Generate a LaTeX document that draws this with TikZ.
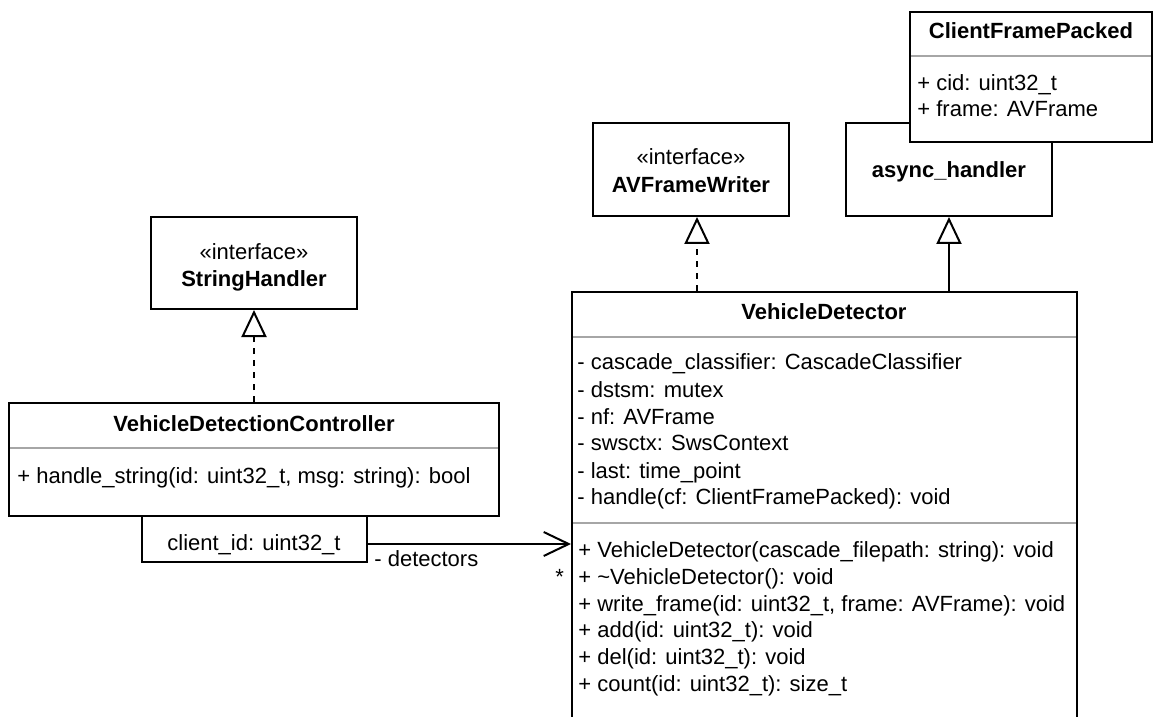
\documentclass[tikz,border=0pt]{standalone}
\usepackage{fontspec}
\setmainfont{Liberation Sans}
\usetikzlibrary{arrows.meta,fit}

\tikzset{
  umlbox/.style={draw, line width=1pt, fill=white, inner sep=0pt},
  sepline/.style={draw=black!35, line width=1pt},
  member/.style={anchor=base west, inner sep=0pt, font=\fontsize{11}{13}\selectfont},
  title/.style={anchor=base, inner sep=0pt, font=\fontsize{11}{13}\selectfont\bfseries},
  stereo/.style={anchor=base, inner sep=0pt, font=\fontsize{11}{13}\selectfont},
  realize/.style={line width=1pt, dash pattern=on 3pt off 3pt,
    -{Triangle[open,length=13.5pt,width=12.5pt]}},
  inherit/.style={line width=1pt, -{Triangle[open,length=13.5pt,width=12.5pt]}},
  assoc/.style={line width=1pt, -{Straight Barb[length=12.5pt,width=12pt]}},
}

\begin{document}
\begin{tikzpicture}[x=0.5pt,y=-0.5pt]
\useasboundingbox (0,0) rectangle (1153,717);
\clip (0,0) rectangle (1153,717);

% async_handler, with ClientFramePacked lying over its corner
\node[umlbox, fit={(846,123) (1052,216)}] (handler) {};
\node[title] (handler-name) at (949,178) {async\_handler};

\node[umlbox, fit={(910,12) (1152,142)}] (packed) {};
\node[title] (packed-name) at (1031,39) {ClientFramePacked};
\draw[sepline] (911,56) -- (1151,56);
\node[member] (packed-cid) at (917,91) {+ cid: uint32\_t};
\node[member] (packed-frame) at (917,117) {+ frame: AVFrame};

% interfaces
\node[umlbox, fit={(593,123) (789,216)}] (writer) {};
\node[stereo] (writer-st) at (691,165) {«interface»};
\node[title] (writer-name) at (691,192) {AVFrameWriter};

\node[umlbox, fit={(151,217) (357,309)}] (strh) {};
\node[stereo] (strh-st) at (254,260) {«interface»};
\node[title] (strh-name) at (254,286) {StringHandler};

% controller and its qualifier
\node[umlbox, fit={(9,403) (499,516)}] (ctrl) {};
\node[title] (ctrl-name) at (254,431) {VehicleDetectionController};
\draw[sepline] (10,448) -- (498,448);
\node[member] (ctrl-m1) at (17,483) {+ handle\_string(id: uint32\_t, msg: string): bool};

\node[umlbox, fit={(142,516) (367,562)}] (qual) {};
\node[stereo] (qual-key) at (254,550) {client\_id: uint32\_t};

% detector
\node[umlbox, fit={(572,292) (1077,760)}] (det) {};
\node[title] (det-name) at (824,320) {VehicleDetector};
\draw[sepline] (573,337) -- (1076,337);
\node[member] (det-a1) at (577,370) {- cascade\_classifier: CascadeClassifier};
\node[member] (det-a2) at (577,397) {- dstsm: mutex};
\node[member] (det-a3) at (577,424) {- nf: AVFrame};
\node[member] (det-a4) at (577,451) {- swsctx: SwsContext};
\node[member] (det-a5) at (577,478) {- last: time\_point};
\node[member] (det-a6) at (577,504) {- handle(cf: ClientFramePacked): void};
\draw[sepline] (573,523) -- (1076,523);
\node[member] (det-m1) at (578,557) {+ VehicleDetector(cascade\_filepath: string): void};
\node[member] (det-m2) at (578,584) {+ \textasciitilde VehicleDetector(): void};
\node[member] (det-m3) at (578,611) {+ write\_frame(id: uint32\_t, frame: AVFrame): void};
\node[member] (det-m4) at (578,637) {+ add(id: uint32\_t): void};
\node[member] (det-m5) at (578,664) {+ del(id: uint32\_t): void};
\node[member] (det-m6) at (578,691) {+ count(id: uint32\_t): size\_t};

% relations
\draw[realize] (ctrl.north -| strh.south) -- (strh.south);
\draw[realize] ([xshift=3pt]det.north -| writer.south) -- ([xshift=3pt]writer.south);
\draw[inherit] (det.north -| handler.south) -- (handler.south);
\draw[assoc] ([yshift=-2.5pt]qual.east) -- ([yshift=-2.5pt]qual.east -| det.west);
\node[member] (role) at (374,566) {- detectors};
\node[member] (mult) at (555,584) {*};
\end{tikzpicture}
\end{document}
